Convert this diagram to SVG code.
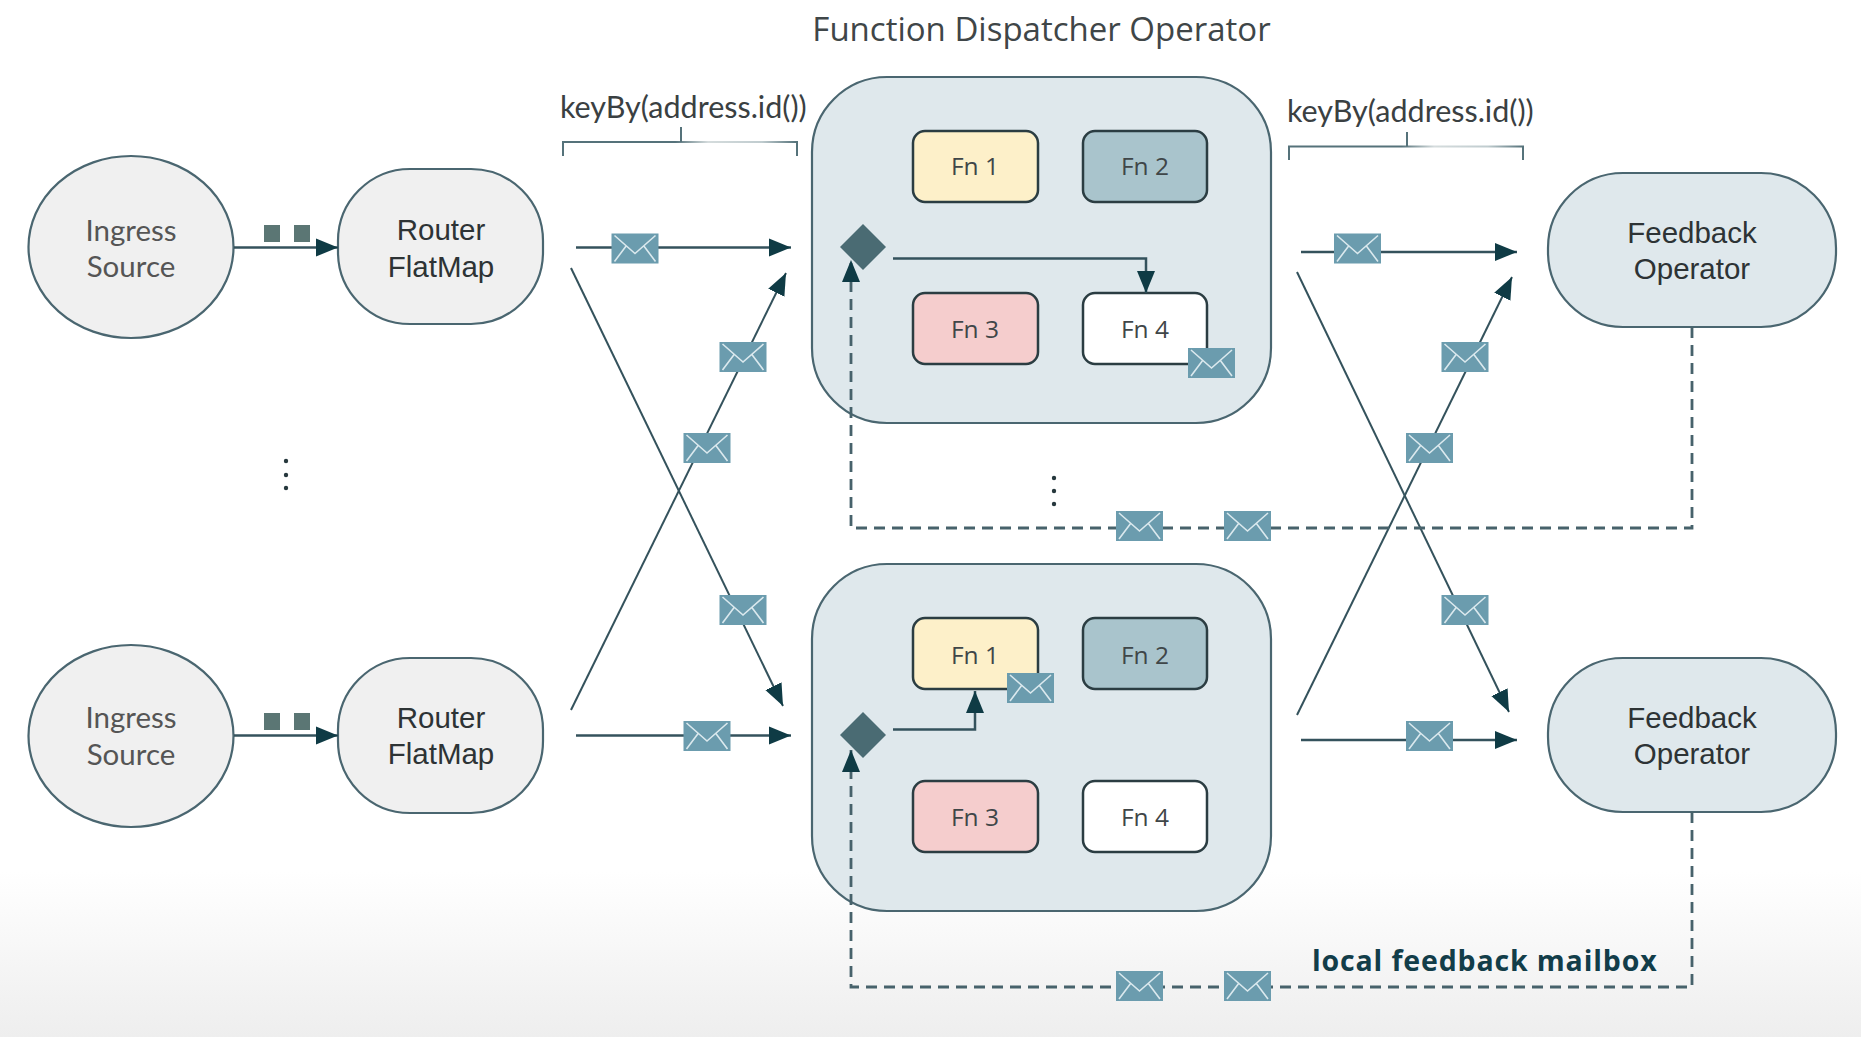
<svg xmlns="http://www.w3.org/2000/svg" xmlns:xlink="http://www.w3.org/1999/xlink" width="1861" height="1037" viewBox="0 0 1861 1037">
<style>
.op{fill:#dfe8ec;stroke:#4a6670;stroke-width:2.2}
.src{fill:#f0f0f0;stroke:#4a6670;stroke-width:2.2}
.fn{stroke:#2b3d42;stroke-width:2.5}
.line{fill:none;stroke:#34525c;stroke-width:2.5}
.thin{stroke-width:2}
.arrow{marker-end:url(#head)}
.dash{fill:none;stroke:#47626b;stroke-width:2.8;stroke-dasharray:11 7}
.br{fill:none;stroke-width:2}
.lbl{font-family:"Open Sans","Noto Sans",sans-serif;fill:#3f4648;text-anchor:middle}
.fnl{font-size:24.5px}
.ing{font-family:Lato,"Open Sans",sans-serif;font-size:29.5px;fill:#555;text-anchor:middle}
.ar{font-family:"Liberation Sans",Arial,sans-serif;font-size:29.5px;fill:#2d3335;text-anchor:middle}
.key{font-family:Lato,"Open Sans",sans-serif;font-size:30.5px;fill:#3a4042}
.sq{fill:#5b7674}
.dot{fill:#26383d}
</style>
<defs>
<linearGradient id="bg" x1="0" y1="0" x2="0" y2="1"><stop offset="0" stop-color="#ffffff"/><stop offset="0.84" stop-color="#ffffff"/><stop offset="1" stop-color="#eeeeee"/></linearGradient>
<linearGradient id="brk" x1="0" y1="0" x2="1" y2="0"><stop offset="0" stop-color="#55727a"/><stop offset="0.48" stop-color="#55727a"/><stop offset="0.62" stop-color="#d5dcdd"/><stop offset="0.85" stop-color="#c0cccf"/><stop offset="1" stop-color="#55727a"/></linearGradient>
<marker id="head" markerUnits="userSpaceOnUse" markerWidth="24" markerHeight="20" refX="22" refY="10" orient="auto"><path d="M0 1 L22 10 L0 19 Z" fill="#0f3b45"/></marker>
<symbol id="env" viewBox="0 0 47 30" width="47" height="30" overflow="visible">
<rect width="47" height="30" fill="#6b9cae"/>
<path d="M3 2 L23.5 20 L44 2 M3 28 L15 12 M44 28 L32 12" fill="none" stroke="#dbe9ee" stroke-width="1.6"/>
</symbol>
</defs>
<rect id="background" width="1861" height="1037" fill="url(#bg)"/>

<text id="title" class="lbl" x="1041.500" y="41" font-size="33">Function Dispatcher Operator</text>

<g id="key-left">
<text class="key" x="560" y="118">keyBy(address.id())</text>
<path class="br" stroke="url(#brk)" d="M563 156 V142 H797 V156"/>
<path class="br" stroke="#55727a" d="M681 127 V142"/>
</g>
<g id="key-right">
<text class="key" x="1287" y="122">keyBy(address.id())</text>
<path class="br" stroke="url(#brk)" d="M1289 160 V146.500 H1523 V160"/>
<path class="br" stroke="#55727a" d="M1407 132 V146.500"/>
</g>

<g id="ingress-1"><ellipse class="src" cx="131" cy="247" rx="102.500" ry="91"/><text class="ing" x="131" y="241">Ingress</text><text class="ing" x="131" y="277">Source</text></g>
<g id="router-1"><rect class="src" x="338" y="169" width="205" height="155" rx="72" ry="72"/><text class="ar" x="441" y="240">Router</text><text class="ar" x="441" y="277">FlatMap</text></g>
<g id="ingress-2"><ellipse class="src" cx="131" cy="736" rx="102.500" ry="91"/><text class="ing" x="131" y="728">Ingress</text><text class="ing" x="131" y="765">Source</text></g>
<g id="router-2"><rect class="src" x="338" y="658" width="205" height="155" rx="72" ry="72"/><text class="ar" x="441" y="728">Router</text><text class="ar" x="441" y="764">FlatMap</text></g>

<g id="dispatcher-1">
<rect class="op" x="812" y="77" width="459" height="346" rx="75" ry="75"/>
<g id="d1-fn1"><rect class="fn" x="913" y="131" width="125" height="71" rx="12" fill="#fdf0c9"/><text class="lbl fnl" x="975" y="175">Fn 1</text></g>
<g id="d1-fn2"><rect class="fn" x="1083" y="131" width="124" height="71" rx="12" fill="#a9c4cc"/><text class="lbl fnl" x="1145" y="175">Fn 2</text></g>
<g id="d1-fn3"><rect class="fn" x="913" y="293" width="125" height="71" rx="12" fill="#f5cdcd"/><text class="lbl fnl" x="975" y="338">Fn 3</text></g>
<g id="d1-fn4"><rect class="fn" x="1083" y="293" width="124" height="71" rx="12" fill="#ffffff"/><text class="lbl fnl" x="1145" y="338">Fn 4</text></g>
<path id="d1-router" d="M863 224 L886 247 L863 270 L840 247 Z" fill="#4a6b73"/>
</g>
<g id="dispatcher-2">
<rect class="op" x="812" y="564" width="459" height="347" rx="75" ry="75"/>
<g id="d2-fn1"><rect class="fn" x="913" y="618" width="125" height="71" rx="12" fill="#fdf0c9"/><text class="lbl fnl" x="975" y="664">Fn 1</text></g>
<g id="d2-fn2"><rect class="fn" x="1083" y="618" width="124" height="71" rx="12" fill="#a9c4cc"/><text class="lbl fnl" x="1145" y="664">Fn 2</text></g>
<g id="d2-fn3"><rect class="fn" x="913" y="781" width="125" height="71" rx="12" fill="#f5cdcd"/><text class="lbl fnl" x="975" y="826">Fn 3</text></g>
<g id="d2-fn4"><rect class="fn" x="1083" y="781" width="124" height="71" rx="12" fill="#ffffff"/><text class="lbl fnl" x="1145" y="826">Fn 4</text></g>
<path id="d2-router" d="M863 712 L886 735 L863 758 L840 735 Z" fill="#4a6b73"/>
</g>

<g id="feedback-1"><rect class="op" x="1548" y="173" width="288" height="154" rx="75" ry="75"/><text class="ar" x="1692" y="243">Feedback</text><text class="ar" x="1692" y="279">Operator</text></g>
<g id="feedback-2"><rect class="op" x="1548" y="658" width="288" height="154" rx="75" ry="75"/><text class="ar" x="1692" y="728">Feedback</text><text class="ar" x="1692" y="764">Operator</text></g>

<g id="connectors">
<path class="line arrow" d="M234 247.500 H338"/>
<path class="line arrow" d="M234 735.500 H338"/>
<path class="line arrow" d="M576 247.500 H791"/>
<path class="line arrow" d="M576 735.500 H791"/>
<path class="line thin arrow" d="M571 710 L786 273"/>
<path class="line thin arrow" d="M571 268 L783 706"/>
<path class="line arrow" d="M1301 252 H1517"/>
<path class="line arrow" d="M1301 740 H1517"/>
<path class="line thin arrow" d="M1297 715 L1512 277"/>
<path class="line thin arrow" d="M1297 272 L1509 712"/>
<path class="line arrow" d="M893 258.500 H1146 V293"/>
<path class="line arrow" d="M893 729.500 H975 V691"/>
<path class="dash arrow" d="M1692 327 V528 H851 V260"/>
<path class="dash arrow" d="M1692 812 V987 H851 V750"/>
</g>

<g id="messages">
<rect class="sq" x="264" y="225" width="16" height="17"/><rect class="sq" x="294" y="225" width="16" height="17"/>
<rect class="sq" x="264" y="713" width="16" height="17"/><rect class="sq" x="294" y="713" width="16" height="17"/>
<use href="#env" x="611.500" y="233.500"/>
<use href="#env" x="719.500" y="342"/>
<use href="#env" x="683.500" y="433"/>
<use href="#env" x="719.500" y="595"/>
<use href="#env" x="683.500" y="721"/>
<use href="#env" x="1334" y="233.500"/>
<use href="#env" x="1441.500" y="342"/>
<use href="#env" x="1406" y="433"/>
<use href="#env" x="1441.500" y="595"/>
<use href="#env" x="1406" y="721"/>
<use href="#env" x="1116" y="511"/>
<use href="#env" x="1224" y="511"/>
<use href="#env" x="1116" y="971"/>
<use href="#env" x="1224" y="971"/>
<use href="#env" x="1188" y="348"/>
<use href="#env" x="1007" y="673"/>
</g>

<g id="ellipsis-left"><circle class="dot" cx="286" cy="461" r="2.200"/><circle class="dot" cx="286" cy="475" r="2.200"/><circle class="dot" cx="286" cy="488" r="2.200"/></g>
<g id="ellipsis-mid"><circle class="dot" cx="1054" cy="478" r="2.200"/><circle class="dot" cx="1054" cy="491" r="2.200"/><circle class="dot" cx="1054" cy="504" r="2.200"/></g>

<text id="mailbox-label" x="1312" y="971" font-family="'Open Sans','Noto Sans',sans-serif" font-weight="700" font-size="28.5" letter-spacing="0.85" fill="#123d49">local feedback mailbox</text>
</svg>
